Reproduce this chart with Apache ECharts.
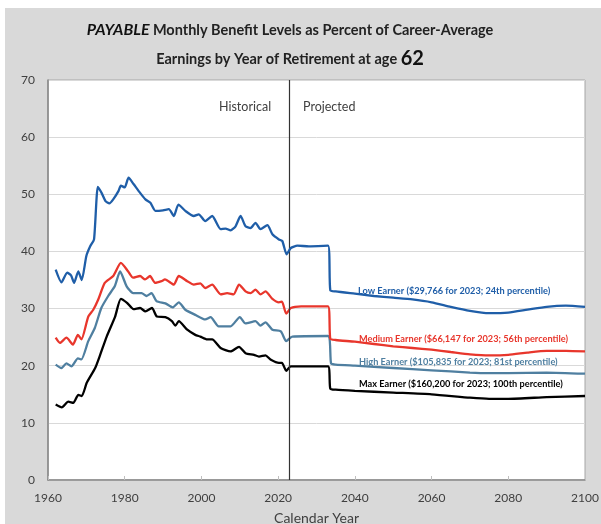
<!DOCTYPE html>
<html>
<head>
<meta charset="utf-8">
<script src="https://cdn.jsdelivr.net/npm/echarts@6/dist/echarts.min.js"></script>
<style>
  html, body { margin: 0; padding: 0; background: #fff; }
  #chart { width: 601px; height: 524px; }
</style>
</head>
<body>
<div id="chart"></div>
<script>
// axis ticks
var xTicks = [1960, 2100, 20];
var yTicks = [0, 70, 10];
var retirementSplit = 2023;

// [year, percent]
var lowEarner = [
  [1962, 36.8], [1963.5, 34.6], [1965, 36.3], [1966, 35.8], [1966.8, 34.5], [1967.9, 36.5], [1968.8, 35.0],
  [1970, 39.2], [1971, 40.9], [1972, 42.1], [1973, 51.3], [1974, 50.2], [1975, 48.8], [1976, 48.4],
  [1977, 49.1], [1978.4, 50.6], [1979, 51.5], [1980, 51.2], [1981, 52.9], [1982.3, 51.8], [1983.6, 50.6],
  [1985.4, 49.1], [1986.7, 48.5], [1988, 47.1], [1990, 47.2], [1991.5, 47.4], [1992.8, 46.2], [1994, 48.2],
  [1995.8, 47.1], [1998, 46.2], [1999.3, 46.5], [2001, 45.3], [2002.8, 46.2], [2005, 43.9], [2006.3, 44.0],
  [2007.6, 43.7], [2008.9, 44.4], [2010.2, 46.2], [2011.5, 44.4], [2012.8, 44.1], [2014.1, 45.0],
  [2015.4, 43.9], [2017.2, 44.6], [2018.5, 43.0], [2020.2, 42.1], [2021.1, 41.8], [2022.2, 39.5],
  [2023.3, 40.6], [2025, 41.0], [2028, 40.9], [2033, 41.0], [2033.6, 33.2], [2035, 33.0], [2040, 32.6],
  [2045, 32.2], [2050, 31.9], [2055, 31.6], [2060, 31.1], [2065, 30.3], [2070, 29.6], [2075, 29.2],
  [2080, 29.3], [2085, 29.8], [2090, 30.3], [2095, 30.5], [2100, 30.3]
];
var mediumEarner = [
  [1962, 24.9], [1963.1, 24.0], [1964.8, 24.9], [1966.5, 23.7], [1967.8, 25.4], [1968.7, 24.6],
  [1970.5, 28.6], [1971.8, 29.8], [1973.1, 31.6], [1974.8, 34.5], [1977, 35.7], [1979, 38.0],
  [1980.9, 36.5], [1982.2, 35.4], [1984, 35.7], [1985.3, 35.1], [1986.6, 35.7], [1987.9, 34.5],
  [1989.6, 34.8], [1990.5, 35.1], [1992.8, 34.2], [1994.1, 35.7], [1996.3, 34.8], [1998, 34.2],
  [1999.7, 34.4], [2001, 33.6], [2002.8, 34.2], [2005, 32.5], [2006.7, 32.7], [2008.4, 32.5],
  [2009.8, 34.2], [2011.5, 33.0], [2012.8, 32.7], [2014.1, 33.3], [2015.4, 32.5], [2016.7, 33.0],
  [2018.5, 31.7], [2020.2, 31.1], [2021, 31.2], [2022.1, 29.1], [2023.3, 30.1], [2026, 30.4],
  [2033, 30.4], [2033.6, 24.7], [2035, 24.5], [2040, 24.2], [2045, 23.8], [2050, 23.4], [2055, 23.1],
  [2060, 22.8], [2065, 22.4], [2070, 22.0], [2075, 21.8], [2080, 21.9], [2085, 22.3], [2090, 22.6],
  [2095, 22.6], [2100, 22.5]
];
var highEarner = [
  [1962, 20.2], [1963.5, 19.6], [1964.8, 20.4], [1966.1, 19.9], [1967.8, 21.3], [1968.7, 21.1],
  [1970.5, 24.3], [1972.2, 26.6], [1973.9, 30.1], [1975.7, 32.2], [1977.4, 33.9], [1978.8, 36.5],
  [1980.5, 33.9], [1982.2, 32.7], [1984.4, 32.7], [1985.7, 32.2], [1987, 32.7], [1988.3, 31.3],
  [1990.6, 30.9], [1992.5, 30.2], [1994.1, 31.1], [1995.8, 29.8], [1998.4, 28.9], [2001, 28.1],
  [2002.4, 28.5], [2004.5, 26.9], [2007.6, 26.9], [2010, 28.5], [2011.5, 27.4], [2014.1, 27.8],
  [2015.4, 27.0], [2016.7, 27.6], [2018.5, 26.3], [2020.7, 26.0], [2022.1, 24.3], [2023.7, 25.1],
  [2033, 25.2], [2033.8, 20.4], [2035, 20.2], [2040, 20.0], [2050, 19.6], [2060, 19.2], [2070, 18.8],
  [2075, 18.7], [2080, 18.7], [2090, 18.8], [2100, 18.6]
];
var maxEarner = [
  [1962, 13.2], [1963.6, 12.7], [1965.3, 13.7], [1966.6, 13.5], [1967.9, 14.9], [1968.8, 14.7],
  [1970.1, 17.0], [1972.3, 19.6], [1973.6, 21.9], [1975.3, 25.1], [1977.5, 28.6], [1979, 31.7],
  [1980.6, 31.0], [1982.3, 29.9], [1984, 30.1], [1985.4, 29.5], [1987.1, 30.1], [1988.4, 28.6],
  [1990.6, 28.5], [1992.3, 27.8], [1993.2, 27.0], [1994.1, 27.8], [1996.3, 26.3], [1998.4, 25.4],
  [1999.7, 25.1], [2001.5, 24.6], [2002.8, 24.6], [2005, 23.1], [2007.6, 22.5], [2009.8, 23.3],
  [2011.5, 22.2], [2013.7, 21.9], [2015, 21.6], [2016.7, 21.8], [2018, 21.1], [2020.2, 20.5],
  [2021, 20.5], [2022.1, 19.1], [2023.3, 19.9], [2033, 19.9], [2033.6, 16.0], [2035, 15.8],
  [2040, 15.6], [2050, 15.3], [2060, 15.0], [2070, 14.4], [2075, 14.2], [2080, 14.2], [2090, 14.5],
  [2100, 14.7]
];

var seriesNames = [
  'Low Earner ($29,766 for 2023; 24th percentile)',
  'Medium Earner ($66,147 for 2023; 56th percentile)',
  'High Earner ($105,835 for 2023; 81st percentile)',
  'Max Earner ($160,200 for 2023; 100th percentile)'
];
var seriesData = [lowEarner, mediumEarner, highEarner, maxEarner];
var seriesColors = ['#1f5ea8', '#e8362c', '#4f7fa0', '#000000'];
var labelPos = [[358, 291], [359, 339], [359, 362], [359, 384]];

var chart = echarts.init(document.getElementById('chart'));
var font = 'Lato, "Open Sans", sans-serif';

var series = seriesData.map(function (d, i) {
  var s = {
    name: seriesNames[i],
    type: 'line',
    data: d,
    showSymbol: false,
    smooth: 0.2,
    lineStyle: { color: seriesColors[i], width: 2.3 },
    z: 5 - i
  };
  if (i === 0) {
    s.markLine = {
      silent: true,
      symbol: 'none',
      label: { show: false },
      lineStyle: { color: '#333', width: 1.2, type: 'solid' },
      data: [{ xAxis: retirementSplit }]
    };
  }
  return s;
});

var labels = seriesNames.map(function (n, i) {
  return {
    type: 'text', x: labelPos[i][0], y: labelPos[i][1], z: 10,
    style: { text: n, fill: seriesColors[i], font: 'bold 9.2px ' + font, verticalAlign: 'middle' }
  };
});

chart.setOption({
  backgroundColor: '#ffffff',
  animation: false,
  graphic: [
    { type: 'rect', z: -10, shape: { x: 5, y: 8, width: 596, height: 516 }, style: { fill: '#d9d9d9' } },
    {
      type: 'text', x: 290, y: 30, z: 10,
      style: {
        text: '{i|PAYABLE} {b|Monthly Benefit Levels as Percent of Career-Average}',
        align: 'center', verticalAlign: 'middle',
        rich: {
          i: { font: 'italic bold 16px ' + font, fill: '#111' },
          b: { font: 'bold 14.5px ' + font, fill: '#222' }
        }
      }
    },
    {
      type: 'text', x: 290, y: 59, z: 10,
      style: {
        text: '{b|Earnings by Year of Retirement at age }{n|62}',
        align: 'center', verticalAlign: 'middle',
        rich: {
          b: { font: 'bold 14.5px ' + font, fill: '#222' },
          n: { font: 'bold 20px ' + font, fill: '#111' }
        }
      }
    },
    { type: 'text', x: 219, y: 107, z: 10, style: { text: 'Historical', font: '12.5px ' + font, fill: '#404040', verticalAlign: 'middle' } },
    { type: 'text', x: 303, y: 107, z: 10, style: { text: 'Projected', font: '12.5px ' + font, fill: '#404040', verticalAlign: 'middle' } }
  ].concat(labels),
  grid: {
    left: 48, right: 16, top: 80, bottom: 44,
    outerBoundsMode: 'none',
    show: true, backgroundColor: '#ffffff', borderColor: '#a6a6a6', borderWidth: 1
  },
  xAxis: {
    type: 'value', min: xTicks[0], max: xTicks[1], interval: xTicks[2],
    name: 'Calendar Year', nameLocation: 'middle', nameGap: 31,
    nameTextStyle: { fontFamily: font, fontSize: 14, color: '#404040' },
    axisLine: { lineStyle: { color: '#868686', width: 1.5 } },
    axisTick: { show: true, inside: true, length: 4, lineStyle: { color: '#bfbfbf' } },
    axisLabel: {
      fontFamily: font, fontSize: 12, color: '#404040', margin: 12,
      formatter: function (v) { return String(v); }
    },
    splitLine: { show: false }
  },
  yAxis: {
    type: 'value', min: yTicks[0], max: yTicks[1], interval: yTicks[2],
    axisLine: { show: true, lineStyle: { color: '#868686', width: 1.5 } },
    axisTick: { show: false },
    axisLabel: { fontFamily: font, fontSize: 12, color: '#404040', margin: 13 },
    splitLine: { lineStyle: { color: '#d9d9d9', width: 1 } }
  },
  series: series
});
</script>
</body>
</html>
